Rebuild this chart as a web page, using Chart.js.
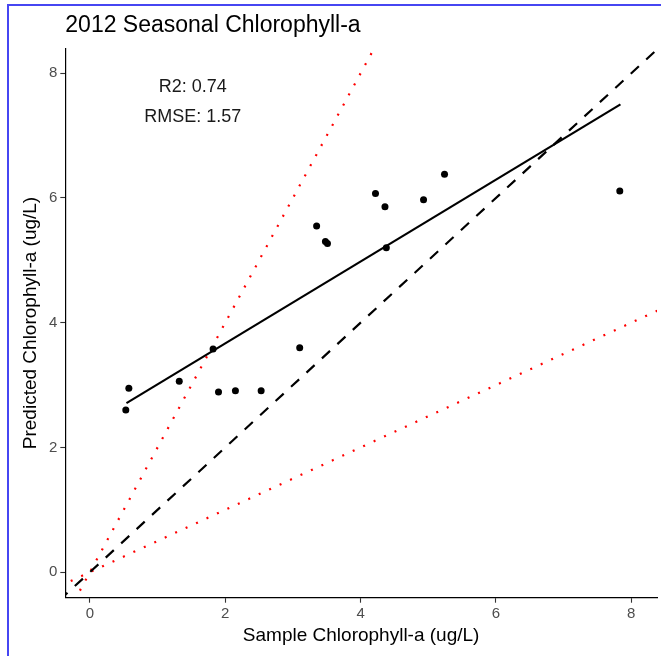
<!DOCTYPE html>
<html><head><meta charset="utf-8">
<script src="https://cdn.jsdelivr.net/npm/chart.js@4/dist/chart.umd.min.js"></script>
<style>
html,body{margin:0;padding:0;background:#fff;}
#wrap{position:relative;width:661px;height:656px;overflow:hidden;background:#fff;}
#frame{position:absolute;left:7px;top:4px;width:700px;height:700px;border-left:2px solid #4646f2;border-top:2px solid #4646f2;pointer-events:none;}
canvas{position:absolute;left:0;top:0;}
</style></head><body>
<div id="wrap"><canvas id="c" width="661" height="656"></canvas><div id="frame"></div></div>
<script>
// Observed sample values (x) and model predictions (y)
const sampleChl    = [0.53, 0.575, 1.32, 1.82, 1.90, 2.15, 2.53, 3.10, 3.35, 3.48, 3.51, 4.22, 4.36, 4.38, 4.93, 5.24, 7.83];
const predictedChl = [2.60, 2.95,  3.06, 3.58, 2.89, 2.91, 2.91, 3.60, 5.55, 5.30, 5.27, 6.07, 5.86, 5.20, 5.97, 6.38, 6.11];
// Fitted regression line end points
const fitLineX = [0.54, 7.84];
const fitLineY = [2.71, 7.50];
// Reference lines through the origin: 1:1 (dashed), 2:1 and 1:2 (red dotted)
const refSlopes = [1, 2, 0.5];
const xTicks = [0, 2, 4, 6, 8];
const yTicks = [0, 2, 4, 6, 8];
const xRange = [-0.364, 8.38];
const yRange = [-0.41, 8.40];
const titleText = '2012 Seasonal Chlorophyll-a';
const xTitle = 'Sample Chlorophyll-a (ug/L)';
const yTitle = 'Predicted Chlorophyll-a (ug/L)';
const statLabels = ['R2: 0.74', 'RMSE: 1.57'];
const statX = 1.52;
const statY = [7.78, 7.30];

const FAM = '"Liberation Sans", Arial, Helvetica, sans-serif';

const refLine = s => [{x: xRange[0] - 1, y: s * (xRange[0] - 1)}, {x: xRange[1] + 1, y: s * (xRange[1] + 1)}];

const textPlugin = {
  id: 'texts',
  afterDatasetsDraw(chart) {
    const ctx = chart.ctx, xs = chart.scales.x, ys = chart.scales.y;
    ctx.save();
    ctx.fillStyle = '#000';
    ctx.font = '23px ' + FAM;
    ctx.textBaseline = 'middle';
    ctx.textAlign = 'left';
    ctx.fillText(titleText, chart.chartArea.left, 26);
    ctx.font = '18px ' + FAM;
    ctx.fillStyle = '#1a1a1a';
    ctx.textAlign = 'center';
    statLabels.forEach((t, i) => ctx.fillText(t, xs.getPixelForValue(statX), ys.getPixelForValue(statY[i])));
    ctx.restore();
  }
};

new Chart(document.getElementById('c'), {
  type: 'scatter',
  data: {
    datasets: [
      {
        label: 'points',
        data: sampleChl.map((v, i) => ({x: v, y: predictedChl[i]})),
        backgroundColor: '#000', borderColor: '#000',
        pointRadius: 3.5, pointBorderWidth: 0
      },
      {
        label: 'fit', type: 'line',
        data: fitLineX.map((v, i) => ({x: v, y: fitLineY[i]})),
        borderColor: '#000', borderWidth: 2.2, pointRadius: 0, fill: false
      },
      {
        label: '1:1', type: 'line',
        data: refLine(refSlopes[0]),
        borderColor: '#000', borderWidth: 2.2, borderDash: [11, 10], pointRadius: 0, fill: false
      },
      {
        label: '2:1', type: 'line',
        data: refLine(refSlopes[1]),
        borderColor: '#ff0000', borderWidth: 2.2, borderDash: [2, 9.5], pointRadius: 0, fill: false
      },
      {
        label: '1:2', type: 'line',
        data: refLine(refSlopes[2]),
        borderColor: '#ff0000', borderWidth: 2.2, borderDash: [2, 9.5], pointRadius: 0, fill: false
      }
    ]
  },
  options: {
    responsive: false, animation: false, devicePixelRatio: 1,
    layout: {padding: {top: 48.3, right: 2.5, left: 0, bottom: 0}},
    plugins: {legend: {display: false}, tooltip: {enabled: false}},
    scales: {
      x: {
        type: 'linear', min: xRange[0], max: xRange[1],
        afterBuildTicks: s => { s.ticks = xTicks.map(v => ({value: v})); },
        afterFit: s => { s.height = 656 - 597.7; },
        grid: {display: true, drawOnChartArea: false, drawTicks: true, tickLength: 5, tickColor: '#333', tickWidth: 1.1},
        border: {display: true, color: '#000', width: 1.2},
        ticks: {color: '#4d4d4d', font: {size: 15, family: FAM}, padding: 2, maxRotation: 0, autoSkip: false},
        title: {display: true, text: xTitle, color: '#000', font: {size: 19, family: FAM}, padding: {top: 0, bottom: 9}}
      },
      y: {
        type: 'linear', min: yRange[0], max: yRange[1],
        afterBuildTicks: s => { s.ticks = yTicks.map(v => ({value: v})); },
        afterFit: s => { s.width = 65.3; },
        grid: {display: true, drawOnChartArea: false, drawTicks: true, tickLength: 5, tickColor: '#333', tickWidth: 1.1},
        border: {display: true, color: '#000', width: 1.2},
        ticks: {color: '#4d4d4d', font: {size: 15, family: FAM}, padding: 3, autoSkip: false},
        title: {display: true, text: yTitle, color: '#000', font: {size: 19, family: FAM}, padding: {top: 19, bottom: 0}}
      }
    }
  },
  plugins: [textPlugin]
});
</script>
</body></html>
